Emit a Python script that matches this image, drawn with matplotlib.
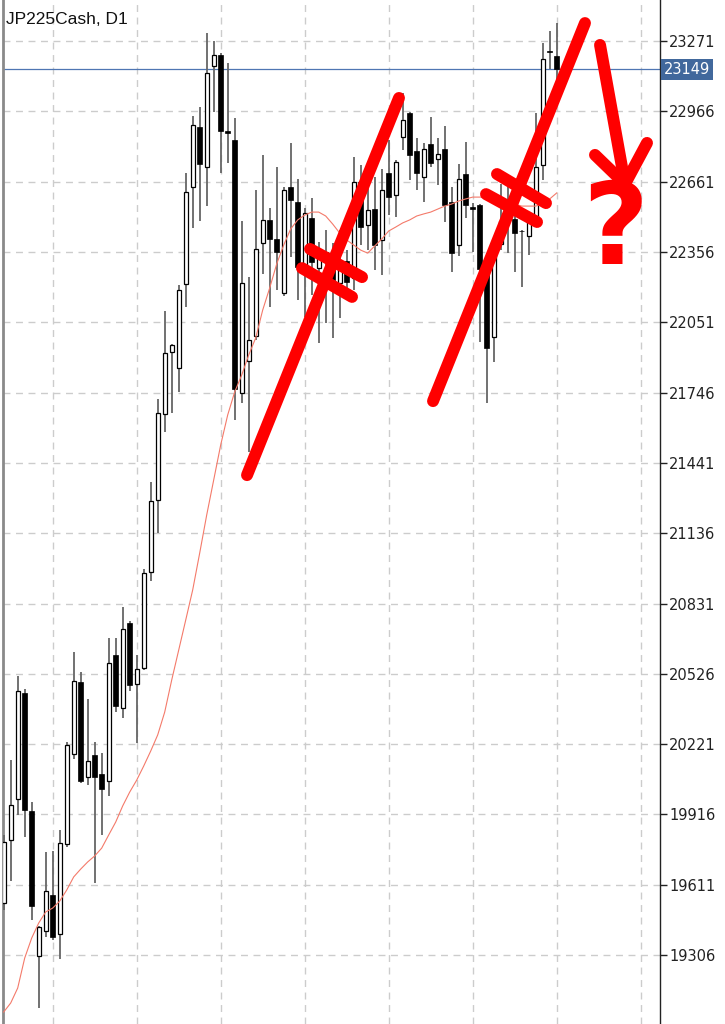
import matplotlib
matplotlib.use("Agg")
import matplotlib.pyplot as plt
import matplotlib.transforms as mtransforms

# ---------------- data ----------------
title = "JP225Cash, D1"
opens = [19532, 19805, 19983, 20443, 19931, 19302, 19410, 19566, 19397, 19788,
         20178, 20490, 20078, 20174, 20091, 20061, 20608, 20378, 20746, 20482,
         20551, 20968, 21280, 21653, 21922, 21853, 22217, 22638, 22898, 22725,
         23163, 23210, 22881, 22842, 21744, 21883, 21991, 22395, 22495, 22412,
         22178, 22638, 22573, 22265, 22503, 22286, 22356, 22312, 22221, 22317,
         22243, 22659, 22473, 22542, 22408, 22699, 22603, 22855, 22959, 22794,
         22681, 22824, 22759, 22803, 22573, 22386, 22694, 22549, 22560, 22299,
         21987, 22390, 22512, 22499, 22449, 22425, 22508, 22733, 23228, 23206]
highs = [19827, 20152, 20516, 20460, 19970, 19432, 19753, 19757, 19848, 20230,
         20621, 20534, 20417, 20230, 20182, 20681, 20681, 20816, 20755, 20608,
         20981, 21358, 21718, 22100, 21957, 22213, 22699, 22946, 22985, 23306,
         23271, 23219, 23176, 22937, 22490, 22247, 22625, 22777, 22547, 22725,
         22638, 22829, 22672, 22547, 22590, 22399, 22451, 22395, 22451, 22364,
         22768, 22733, 22681, 22681, 22716, 22842, 22755, 23046, 22963, 22850,
         22829, 22941, 22850, 22902, 22638, 22738, 22833, 22568, 22564, 22351,
         22412, 22651, 22638, 22590, 22451, 22529, 22959, 23262, 23314, 23349]
lows = [19501, 19627, 19913, 19818, 19458, 19076, 19384, 19371, 19289, 19775,
        20156, 20052, 20044, 19618, 19827, 19996, 20360, 20334, 20451, 20226,
        20542, 20929, 21137, 21575, 21657, 21749, 22117, 22460, 22490, 22555,
        22963, 22699, 22742, 21627, 21701, 21488, 21974, 22260, 22117, 22191,
        22165, 22334, 22148, 22074, 22169, 21961, 22048, 21983, 22069, 22148,
        22191, 22386, 22364, 22278, 22256, 22516, 22508, 22798, 22668, 22625,
        22573, 22725, 22646, 22486, 22269, 22338, 22503, 22356, 21965, 21701,
        21879, 22364, 22351, 22269, 22204, 22343, 22464, 22668, 23150, 23059]
closes = [19796, 19957, 20451, 19935, 19519, 19428, 19584, 19384, 19792, 20217,
          20495, 20061, 20148, 20078, 20026, 20573, 20386, 20720, 20477, 20547,
          20963, 21276, 21657, 21918, 21952, 22191, 22616, 22907, 22738, 23132,
          23210, 22881, 22872, 21762, 22221, 21974, 22369, 22495, 22412, 22356,
          22625, 22581, 22291, 22525, 22312, 22351, 22334, 22234, 22308, 22226,
          22659, 22464, 22538, 22386, 22625, 22594, 22746, 22928, 22777, 22699,
          22803, 22742, 22781, 22560, 22351, 22672, 22560, 22544, 22282, 21939,
          22386, 22490, 22490, 22438, 22445, 22503, 22725, 23193, 23223, 23149]
ma = [19059, 19098, 19163, 19293, 19380, 19445, 19493, 19510, 19540, 19588,
      19645, 19679, 19710, 19736, 19770, 19827, 19883, 19953, 20013, 20065,
      20126, 20191, 20261, 20360, 20499, 20629, 20759, 20890, 21050, 21215,
      21367, 21519, 21649, 21749, 21822, 21909, 21983, 22104, 22200, 22304,
      22386, 22456, 22495, 22516, 22529, 22529, 22512, 22477, 22438, 22408,
      22386, 22364, 22351, 22382, 22412, 22447, 22464, 22482, 22495, 22512,
      22521, 22529, 22542, 22555, 22564, 22577, 22586, 22594, 22594, 22594,
      22586, 22577, 22568, 22564, 22555, 22555, 22555, 22564, 22586, 22612]
current_price = 23149
price_ticks = [19306, 19611, 19916, 20221, 20526, 20831, 21136, 21441,
               21746, 22051, 22356, 22661, 22966, 23271]
vgrid_at = [7, 19, 31, 43, 55, 67, 79, 91]

# hand-drawn annotation strokes (candle index, price)
stroke_lines = [
    ([34.76, 56.47], [21388, 23024]),
    ([43.76, 51.19], [22369, 22247]),
    ([42.61, 49.76], [22286, 22161]),
    ([61.33, 83.04], [21709, 23349]),
    ([70.47, 77.47], [22694, 22568]),
    ([68.90, 76.19], [22607, 22486]),
    ([85.19, 88.76], [23254, 22651]),
    ([84.47, 88.76, 91.90], [22777, 22651, 22829]),
]
qmark_pos = (87.3, 22440)

# ---------------- figure ----------------
W, H = 725, 1024
fig = plt.figure(figsize=(W / 100, H / 100), dpi=100)
fig.patch.set_facecolor("white")
ax = fig.add_axes([3 / W, 0, 657 / W, 1])
ax.set_facecolor("white")

ax.set_xlim(-0.1, 93.757)
ax.set_ylim(19007, 23449)

n = len(opens)
xs = list(range(n))
wick_color = "#666666"
for i in xs:
    o, h, l, c = opens[i], highs[i], lows[i], closes[i]
    ax.vlines(i, l, h, color=wick_color, lw=1.3, zorder=3)
    bull = c >= o
    bottom = min(o, c)
    height = max(abs(c - o), 4)
    if bull:
        ax.bar(i, height, bottom=bottom, width=0.62, facecolor="white",
               edgecolor="black", lw=0.9, zorder=4)
    else:
        ax.bar(i, height, bottom=bottom, width=0.72, facecolor="black",
               edgecolor="black", lw=0.5, zorder=4)

ax.plot(xs, ma, color="#f47a6a", lw=0.8, zorder=5)

ax.axhline(current_price, color="#4f76b3", lw=0.9, zorder=2)

# grid
ax.set_yticks(price_ticks)
ax.set_xticks(vgrid_at)
ax.set_xticklabels([])
ax.grid(True, color="#cccccc", linestyle=(0, (5, 4)), lw=1.0, zorder=0)
ax.set_axisbelow(True)

ax.yaxis.tick_right()
ax.tick_params(axis="y", direction="out", length=5, width=1, pad=1.5,
               labelsize=10.5, labelcolor="#222222", colors="#222222")
for lab in ax.get_yticklabels():
    lab.set_family("DejaVu Sans")
ax.tick_params(axis="x", length=0)

for s in ["top", "bottom"]:
    ax.spines[s].set_visible(False)
ax.spines["right"].set_color("#222222")
ax.spines["right"].set_linewidth(1.0)
ax.spines["left"].set_color("#8a8a8a")
ax.spines["left"].set_linewidth(2.0)

# current price label box
trans = mtransforms.blended_transform_factory(ax.transAxes, ax.transData)
ax.text(1.006, current_price, str(current_price), transform=trans,
        ha="left", va="center", fontsize=10.5, family="DejaVu Sans",
        color="white", clip_on=False, zorder=10,
        bbox=dict(boxstyle="square,pad=0.2", facecolor="#41689c",
                  edgecolor="none"))

# title
ax.text(3 / 657, 1 - 24 / H, title, transform=ax.transAxes,
        ha="left", va="baseline", fontsize=12.5, family="Liberation Sans",
        color="#111111", zorder=10)

# annotations
for xx, yy in stroke_lines:
    ax.plot(xx, yy, color="#ff0000", lw=8.6, solid_capstyle="round",
            solid_joinstyle="round", zorder=8)
ax.text(qmark_pos[0], qmark_pos[1], "?", ha="center", va="center",
        fontsize=82, fontweight="bold", family="DejaVu Sans",
        color="#ff0000", zorder=8)

fig.savefig("out.png", dpi=100)
